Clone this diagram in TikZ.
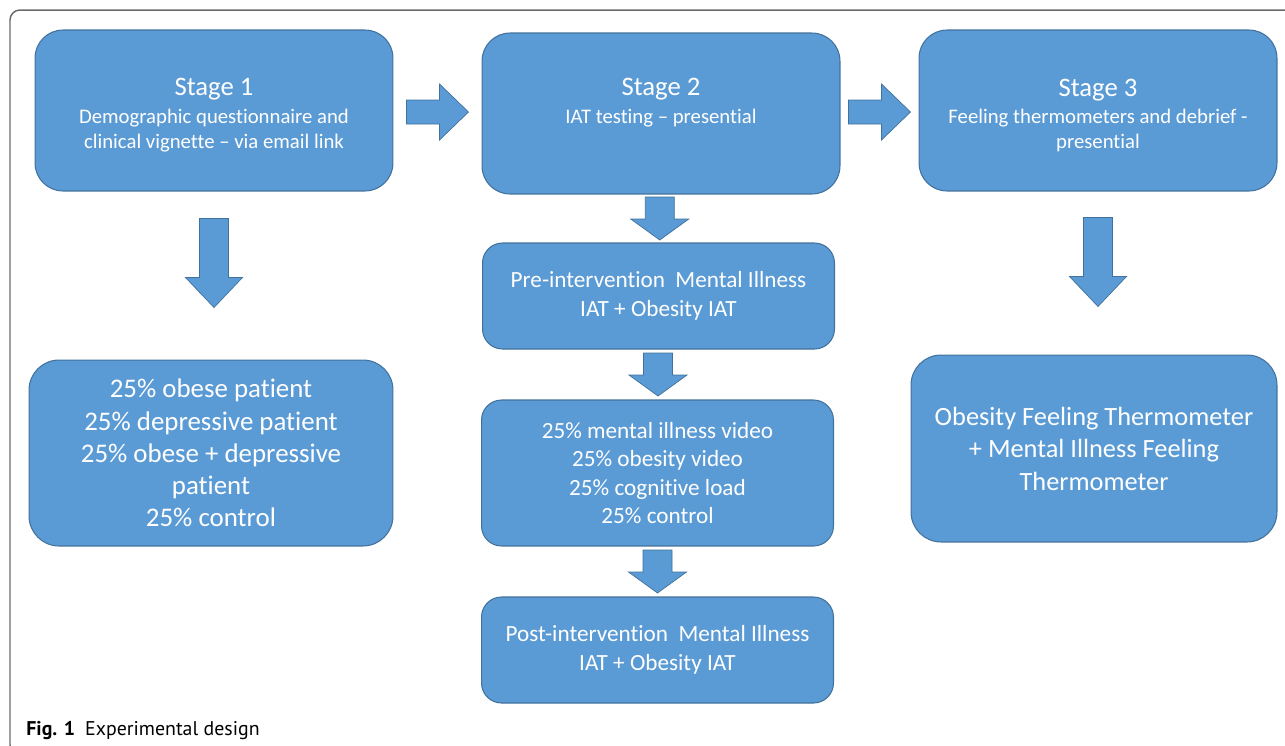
\documentclass[tikz,border=0pt]{standalone}
\usepackage{fontspec}
\setmainfont[Ligatures=NoCommon]{Carlito}
\newfontfamily\capfont{PT Sans}
\usetikzlibrary{calc}
\definecolor{boxblue}{HTML}{5B9BD5}
\definecolor{boxline}{HTML}{41719C}
\definecolor{framegray}{HTML}{6B6B6B}
\begin{document}
\begin{tikzpicture}[x=0.02cm,y=-0.02cm,
    box/.style={draw=boxline,fill=boxblue,text=white,align=center,line width=0.6pt,inner sep=0pt},
    stage/.style={box,minimum width=7.16cm,minimum height=3.22cm,rounded corners=0.56cm,font=\fontsize{11.8}{14.2}\selectfont},
    bigbox/.style={box,minimum height=3.72cm,rounded corners=0.6cm},
    midbox/.style={box,minimum width=7.04cm,rounded corners=0.4cm,font=\fontsize{13.2}{16.2}\selectfont},
    blockarrow/.style={draw=boxline,fill=boxblue,line width=0.4pt},
    rarrow/.pic={\draw[blockarrow](-31,-12)--(2,-12)--(2,-28)--(31,0)--(2,28)--(2,12)--(-31,12)--cycle;},
    bigdown/.pic={\draw[blockarrow](-14.5,-44.5)--(14.5,-44.5)--(14.5,14.5)--(28.5,14.5)--(0,44.5)--(-28.5,14.5)--(-14.5,14.5)--(-14.5,-44.5)--cycle;},
    smalldown/.pic={\draw[blockarrow](-14.5,-21.5)--(14.5,-21.5)--(14.5,0.5)--(29,0.5)--(0,21.5)--(-29,0.5)--(-14.5,0.5)--cycle;}]
    \useasboundingbox(0,0)rectangle(1285,745);\clip(0,0)rectangle(1285,745);
    \draw[framegray,line width=0.85pt,rounded corners=0.2cm](1300,10)--(10,10)--(10,755)--(1300,755);
    % top row
    \node[stage](s1)at(214,110.5){\rule{0pt}{15.4pt}{\fontsize{15.2}{17}\selectfont Stage 1}\\[1.5pt]Demographic questionnaire and\\clinical vignette -- via email link};
    \node[stage](s2)at(661,113.5){{\fontsize{15.2}{17}\selectfont Stage 2}\\[1.5pt]IAT testing -- presential\\\mbox{}};
    \node[stage](s3)at(1098,110.5){\rule{0pt}{15.4pt}{\fontsize{15.2}{17}\selectfont Stage 3}\\[1.5pt]Feeling thermometers and debrief -\\presential};
    % lower boxes
    \node[bigbox,minimum width=7.28cm,font=\fontsize{15.3}{18.3}\selectfont](b1)at(211,453){25\% obese patient\\25\% depressive patient\\25\% obese + depressive\\patient\\25\% control};
    \node[midbox,minimum height=2.12cm](pre)at(658.5,296){Pre-intervention\ \ Mental Illness\\IAT + Obesity IAT};
    \node[midbox,minimum height=2.92cm](mid)at(657.5,473){25\% mental illness video\\25\% obesity video\\25\% cognitive load\\25\% control};
    \node[midbox,minimum height=2.12cm](post)at(657.5,650){Post-intervention\ \ Mental Illness\\IAT + Obesity IAT};
    \node[bigbox,minimum width=7.32cm,minimum height=3.74cm,font=\fontsize{15}{18.5}\selectfont](b3)at(1094,448.5){Obesity Feeling Thermometer\\+ Mental Illness Feeling\\Thermometer};
    % block arrows
    \pic at($(s1.east)!.5!(s2.west)$){rarrow};
    \pic at($(s2.east)!.5!(s3.west)$){rarrow};
    \pic at($(s1.south)+(0,71.5)$){bigdown};
    \pic at($(s3.south)+(0,70.5)$){bigdown};
    \pic at($(s2.south)!.5!(pre.north)$){smalldown};
    \pic at($(pre.south)!.5!(mid.north)$){smalldown};
    \pic at($(mid.south)!.5!(post.north)$){smalldown};
    \node[anchor=base west,inner sep=0pt,font=\capfont\fontsize{11.3}{13}\selectfont](cap)at(26,735){\textbf{Fig. 1}\enspace Experimental design};
\end{tikzpicture}
\end{document}
